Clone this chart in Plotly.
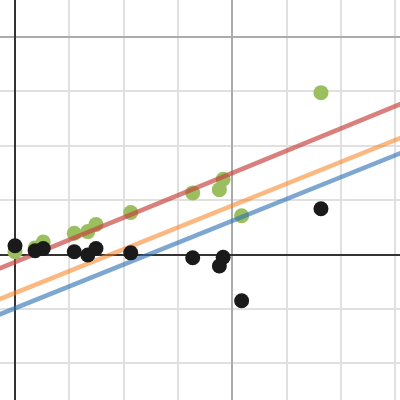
import plotly.graph_objects as go

# Data (grid units)
x_vals = [0.0, 0.37, 0.52, 1.09, 1.34, 1.49, 2.13, 3.27, 3.76, 3.83, 4.17, 5.63]
black_y = [0.16, 0.07, 0.11, 0.05, -0.01, 0.11, 0.03, -0.06, -0.21, -0.05, -0.85, 0.84]
green_y = [0.05, 0.12, 0.23, 0.39, 0.42, 0.55, 0.77, 1.13, 1.19, 1.38, 0.71, 2.97]

line_names = ["red", "orange", "blue"]
line_slopes = [0.409, 0.401, 0.401]
line_intercepts = [-0.140, -0.706, -0.986]
line_colors = ["rgba(199,68,64,0.68)", "rgba(250,126,25,0.55)", "rgba(45,112,179,0.62)"]

x_range = [-0.276, 7.084]
y_range = [-2.670, 4.670]

fig = go.Figure()

fig.add_trace(go.Scatter(x=x_vals, y=green_y, mode="markers",
                         marker=dict(size=15, color="#9bbf5f", line=dict(width=0)),
                         showlegend=False, hoverinfo="skip"))

for name, m, b, c in zip(line_names, line_slopes, line_intercepts, line_colors):
    xs = [x_range[0] - 1, x_range[1] + 1]
    ys = [m * xx + b for xx in xs]
    fig.add_trace(go.Scatter(x=xs, y=ys, mode="lines", name=name,
                             line=dict(color=c, width=4.5),
                             showlegend=False, hoverinfo="skip"))

fig.add_trace(go.Scatter(x=x_vals, y=black_y, mode="markers",
                         marker=dict(size=15, color="#1a1a1a", line=dict(width=0)),
                         showlegend=False, hoverinfo="skip"))

axis_common = dict(
    showticklabels=False, ticks="", tick0=0, dtick=4,
    showgrid=True, gridcolor="#ababab", gridwidth=2,
    minor=dict(dtick=1, tick0=0, showgrid=True, gridcolor="#e0e0e0", gridwidth=2),
    zeroline=True, zerolinecolor="#333333", zerolinewidth=2,
    showline=False, fixedrange=True,
)

fig.update_layout(
    width=400, height=400,
    margin=dict(l=0, r=0, t=0, b=0),
    paper_bgcolor="white", plot_bgcolor="white",
    xaxis=dict(range=x_range, **axis_common),
    yaxis=dict(range=y_range, **axis_common),
    showlegend=False,
)

fig.write_html("out.html", config={"displayModeBar": False},
               post_script="document.body.style.margin='0';document.body.style.overflow='hidden';")
